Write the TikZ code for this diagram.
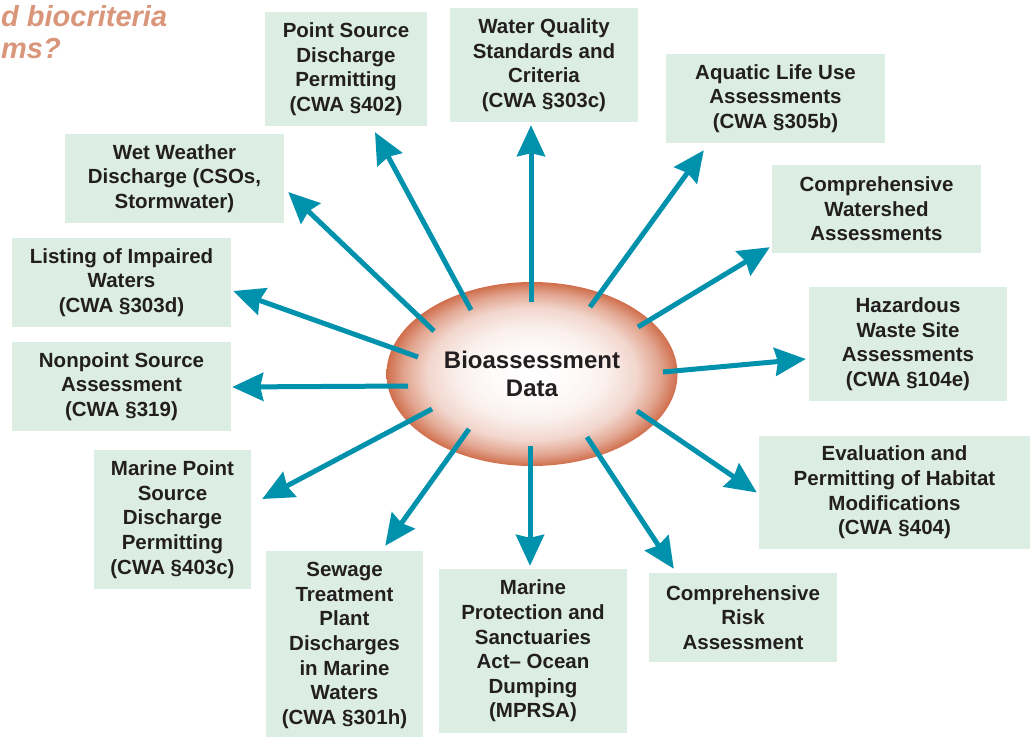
\documentclass[tikz,border=0pt]{standalone}
\usepackage{fontspec}
\setmainfont{Liberation Sans}
\usetikzlibrary{shapes.geometric,arrows.meta}

\definecolor{boxmint}{RGB}{220,238,227}
\definecolor{feedteal}{RGB}{0,145,172}
\definecolor{inkdark}{RGB}{35,31,32}
\definecolor{clayrim}{RGB}{208,110,76}
\definecolor{salmon}{RGB}{217,150,122}
\colorlet{clayfaint}{white!97!clayrim}
\colorlet{claylight}{white!90!clayrim}
\colorlet{claymid}{white!72!clayrim}
\colorlet{claydeep}{white!38!clayrim}

\pgfdeclareradialshading{claypool}{\pgfpoint{0bp}{0bp}}{color(0bp)=(white); color(7bp)=(clayfaint); color(12.5bp)=(claylight); color(18bp)=(claymid); color(22bp)=(claydeep); color(25bp)=(clayrim); color(50bp)=(clayrim)}

\tikzset{
  infobox/.style={fill=boxmint, inner sep=0pt, align=center, text=inkdark, font=\fontsize{20.5}{24.6}\selectfont\bfseries},
  feed/.style={draw=feedteal, line width=5pt, -{Stealth[length=31pt,width=28pt,inset=3pt]}},
}

\begin{document}
\begin{tikzpicture}[x=1pt,y=-1pt]

\useasboundingbox (0,0) rectangle (1032,736);

\node[anchor=north west, inner sep=0pt, align=left, text=salmon, font=\fontsize{29}{32}\selectfont\bfseries\itshape] (heading) at (1,5) {d biocriteria\\ms?};

\node[ellipse, shade, shading=claypool, minimum width=291pt, minimum height=184pt, inner sep=0pt, align=center, text=inkdark, font=\fontsize{24}{28}\selectfont\bfseries] (bio) at (532,374) {Bioassessment\\Data};

\node[infobox, minimum width=162pt, minimum height=114pt] (ps) at (346,69) {Point Source\\Discharge\\Permitting\\(CWA §402)};
\node[infobox, minimum width=188pt, minimum height=114pt] (wq) at (544,65) {Water Quality\\Standards and\\Criteria\\(CWA §303c)};
\node[infobox, minimum width=219pt, minimum height=89pt] (al) at (775.5,98.5) {Aquatic Life Use\\Assessments\\(CWA §305b)};
\node[infobox, minimum width=209pt, minimum height=88pt] (cw) at (876.5,209) {Comprehensive\\Watershed\\Assessments};
\node[infobox, minimum width=198pt, minimum height=114pt] (hw) at (908,344) {Hazardous\\Waste Site\\Assessments\\(CWA §104e)};
\node[infobox, minimum width=271pt, minimum height=113pt] (ev) at (894.5,492.5) {Evaluation and\\Permitting of Habitat\\Modifications\\(CWA §404)};
\node[infobox, minimum width=188pt, minimum height=89pt] (cr) at (743,617.5) {Comprehensive\\Risk\\Assessment};
\node[infobox, minimum width=188pt, minimum height=164pt] (mp) at (533,651) {Marine\\Protection and\\Sanctuaries\\Act-- Ocean\\Dumping\\(MPRSA)};
\node[infobox, minimum width=157pt, minimum height=189pt] (st) at (344.5,645.5) {Sewage\\Treatment\\Plant\\Discharges\\in Marine\\Waters\\(CWA §301h)};
\node[infobox, minimum width=157pt, minimum height=139pt] (mps) at (172.5,519.5) {Marine Point\\Source\\Discharge\\Permitting\\(CWA §403c)};
\node[infobox, minimum width=219pt, minimum height=89pt] (np) at (121.5,386.5) {Nonpoint Source\\Assessment\\(CWA §319)};
\node[infobox, minimum width=219pt, minimum height=89pt] (li) at (121.5,282.5) {Listing of Impaired\\Waters\\(CWA §303d)};
\node[infobox, minimum width=219pt, minimum height=89pt] (ww) at (174.5,178.5) {Wet Weather\\Discharge (CSOs,\\Stormwater)};

\draw[feed] ([shift={(-61,-64)}]bio.center) -- ([shift={(29,6)}]ps.south);
\draw[feed] ([shift={(-1,-72)}]bio.center) -- ([shift={(-13,3)}]wq.south);
\draw[feed] ([shift={(58,-67)}]bio.center) -- ([shift={(38,7)}]al.south west);
\draw[feed] ([shift={(106,-47)}]bio.center) -- ([shift={(-2,-6)}]cw.south west);
\draw[feed] ([shift={(131,-2)}]bio.center) -- ([shift={(-3,15)}]hw.west);
\draw[feed] ([shift={(105,37)}]bio.center) -- ([shift={(-2,0)}]ev.west);
\draw[feed] ([shift={(55,63)}]bio.center) -- ([shift={(25,-4)}]cr.north west);
\draw[feed] ([shift={(-2,72)}]bio.center) -- ([shift={(-3,-3)}]mp.north);
\draw[feed] ([shift={(-63,55)}]bio.center) -- ([shift={(-38,-5)}]st.north east);
\draw[feed] ([shift={(-100,35)}]bio.center) -- ([shift={(11,-20.5)}]mps.east);
\draw[feed] ([shift={(-124,12)}]bio.center) -- ([shift={(1,0.5)}]np.east);
\draw[feed] ([shift={(-114,-17)}]bio.center) -- ([shift={(2,8.5)}]li.east);
\draw[feed] ([shift={(-98,-43)}]bio.center) -- ([shift={(4,13.5)}]ww.east);

\end{tikzpicture}
\end{document}
